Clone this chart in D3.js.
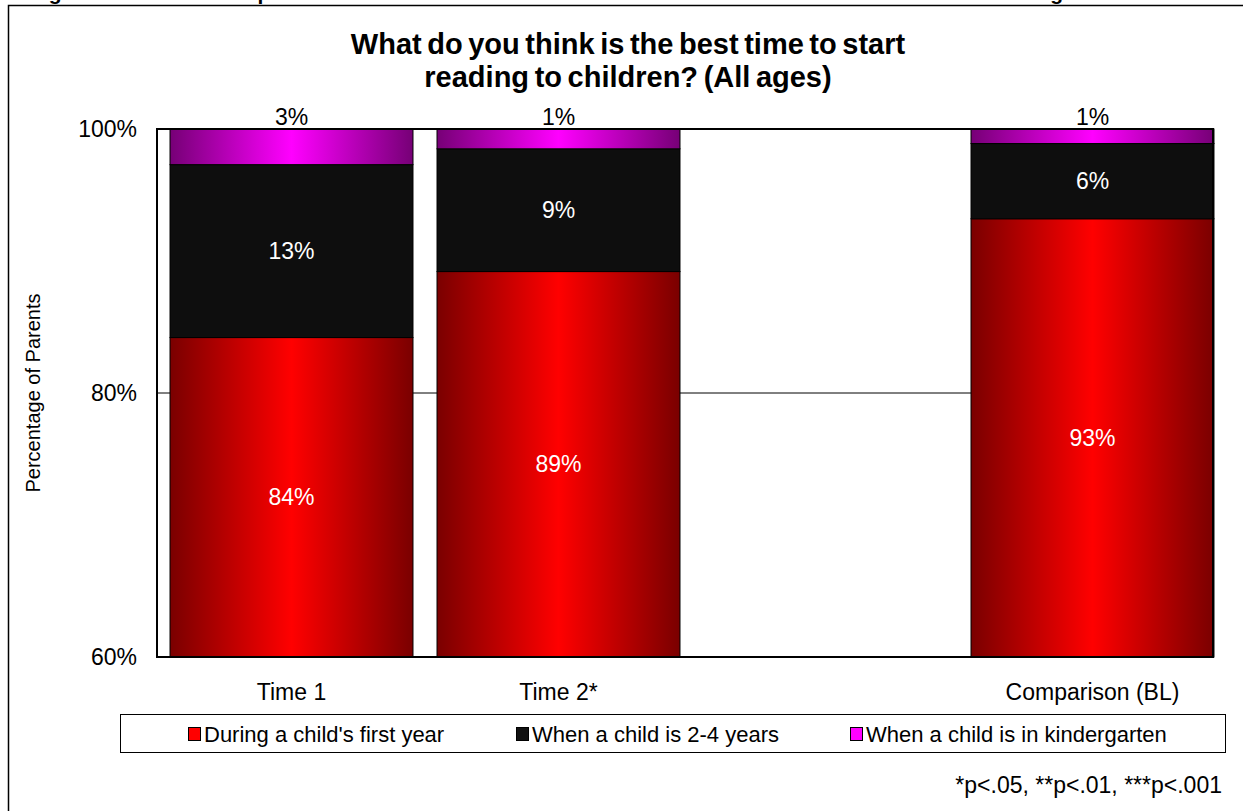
<!DOCTYPE html>
<html><head><meta charset="utf-8">
<script src="https://cdn.jsdelivr.net/npm/d3@7/dist/d3.min.js"></script>
<style>body{margin:0;background:#fff}svg{display:block;font-family:"Liberation Sans",Arial,sans-serif}</style>
</head><body>
<svg id="c" width="1243" height="811"></svg>
<script>
const categories = ["Time 1", "Time 2*", "", "Comparison (BL)"];
const seriesNames = ["During a child's first year", "When a child is 2-4 years", "When a child is in kindergarten"];
const firstYear = [84.2, 89.2, null, 93.2];
const twoToFour = [13.1, 9.3, null, 5.7];
const kindergarten = [2.7, 1.5, null, 1.1];
const labelFirst = ["84%", "89%", "", "93%"];
const labelTwo = ["13%", "9%", "", "6%"];
const labelKg = ["3%", "1%", "", "1%"];
const yTicks = [60, 80, 100];

(function () {
const FONT = "Liberation Sans, Arial, sans-serif";
const svg = d3.select("#c");
const defs = svg.append("defs");
function grad(id, edge, mid) {
  const g = defs.append("linearGradient").attr("id", id).attr("x1", "0").attr("x2", "1").attr("y1", "0").attr("y2", "0");
  g.append("stop").attr("offset", "0%").attr("stop-color", edge);
  g.append("stop").attr("offset", "50%").attr("stop-color", mid);
  g.append("stop").attr("offset", "100%").attr("stop-color", edge);
}
grad("gRed", "#7a0000", "#ff0000");
grad("gMag", "#760076", "#ff00ff");
const fills = ["url(#gRed)", "#0e0e0e", "url(#gMag)"];
const swatch = ["#ff0000", "#111111", "#ff00ff"];

// outer frame
svg.append("rect").attr("x", 8.5).attr("y", 5.5).attr("width", 1260).attr("height", 850)
  .attr("fill", "none").attr("stroke", "#000").attr("stroke-width", 1.5);
// clipped figure caption at top (only descenders visible)
svg.append("text").attr("x", 30).attr("y", 0).attr("font-weight", "bold").attr("font-size", 21)
  .text("Figure 12: Parent Group Beliefs at Both Time 1 and at Time 2 About the Best Time to First Start Reading");

const pL = 157, pR = 1213, pT = 129, pB = 657;
const y = d3.scaleLinear().domain([60, 100]).range([pB, pT]);
const x = d3.scaleBand().domain(categories).range([158, 1226]).paddingInner(0.09).paddingOuter(0.045);

// title
const title = svg.append("text").attr("text-anchor", "middle").attr("font-weight", "bold").attr("font-size", 29)
  .attr("word-spacing", -2.5);
title.append("tspan").attr("x", 628).attr("y", 54).text("What do you think is the best time to start");
title.append("tspan").attr("x", 628).attr("y", 87).text("reading to children? (All ages)");

// gridline
svg.append("g").selectAll("line").data(yTicks.filter(d => d > 60 && d < 100)).join("line")
  .attr("x1", pL).attr("x2", pR).attr("y1", d => y(d)).attr("y2", d => y(d))
  .attr("stroke", "#000").attr("stroke-width", 1);

// y axis labels
const yAxis = d3.axisLeft(y).tickValues(yTicks).tickFormat(d => d + "%").tickSize(0).tickPadding(20);
const ya = svg.append("g").attr("transform", `translate(${pL},0)`).call(yAxis);
ya.select(".domain").remove();
ya.attr("font-size", 23).attr("font-family", FONT);
ya.selectAll("text").attr("fill", "#000");

svg.append("text").attr("transform", `translate(40,393) rotate(-90)`).attr("text-anchor", "middle")
  .attr("font-size", 20).text("Percentage of Parents");

// stacked data
const rows = categories.map((c, i) => ({ i, cat: c, v: [firstYear[i], twoToFour[i], kindergarten[i]] })).filter(r => r.v[0] != null);
const bars = svg.append("g");
rows.forEach(r => {
  let base = 0;
  r.v.forEach((v, k) => {
    const y0 = Math.max(base, 60), y1 = base + v;
    bars.append("rect").attr("x", x(r.cat)).attr("width", x.bandwidth())
      .attr("y", y(Math.min(y1, 100))).attr("height", y(y0) - y(Math.min(y1, 100)))
      .attr("fill", fills[k]).attr("stroke", "#000").attr("stroke-width", 1);
    base = y1;
  });
});

// frame of plot
svg.append("rect").attr("x", pL).attr("y", pT).attr("width", pR - pL).attr("height", pB - pT)
  .attr("fill", "none").attr("stroke", "#000").attr("stroke-width", 2);

// labels
rows.forEach(r => {
  const cx = x(r.cat) + x.bandwidth() / 2;
  const a = r.v[0], b = r.v[1];
  svg.append("text").attr("x", cx).attr("y", (y(60) + y(a)) / 2 + 8).attr("text-anchor", "middle")
    .attr("fill", "#fff").attr("font-size", 23).text(labelFirst[r.i]);
  svg.append("text").attr("x", cx).attr("y", (y(a) + y(a + b)) / 2 + 8).attr("text-anchor", "middle")
    .attr("fill", "#fff").attr("font-size", 23).text(labelTwo[r.i]);
  svg.append("text").attr("x", cx).attr("y", y(100) - 4).attr("text-anchor", "middle")
    .attr("fill", "#000").attr("font-size", 23).text(labelKg[r.i]);
});

// x axis labels
const xAxis = d3.axisBottom(x).tickSize(0).tickPadding(27);
const xa = svg.append("g").attr("transform", `translate(0,${pB})`).call(xAxis);
xa.select(".domain").remove();
xa.attr("font-size", 23).attr("font-family", FONT);
xa.selectAll("text").attr("fill", "#000");

// legend
svg.append("rect").attr("x", 120.5).attr("y", 714.5).attr("width", 1105).attr("height", 38)
  .attr("fill", "#fff").attr("stroke", "#000").attr("stroke-width", 1);
const legX = [188, 516, 850];
seriesNames.forEach((n, k) => {
  svg.append("rect").attr("x", legX[k] + 0.5).attr("y", 727.5).attr("width", 12).attr("height", 13)
    .attr("fill", swatch[k]).attr("stroke", "#000").attr("stroke-width", 1);
  svg.append("text").attr("x", legX[k] + 16).attr("y", 742).attr("font-size", 22).text(n);
});

// footnote
svg.append("text").attr("x", 1222).attr("y", 793).attr("text-anchor", "end").attr("font-size", 23)
  .text("*p<.05, **p<.01, ***p<.001");
})();
</script>
</body></html>
